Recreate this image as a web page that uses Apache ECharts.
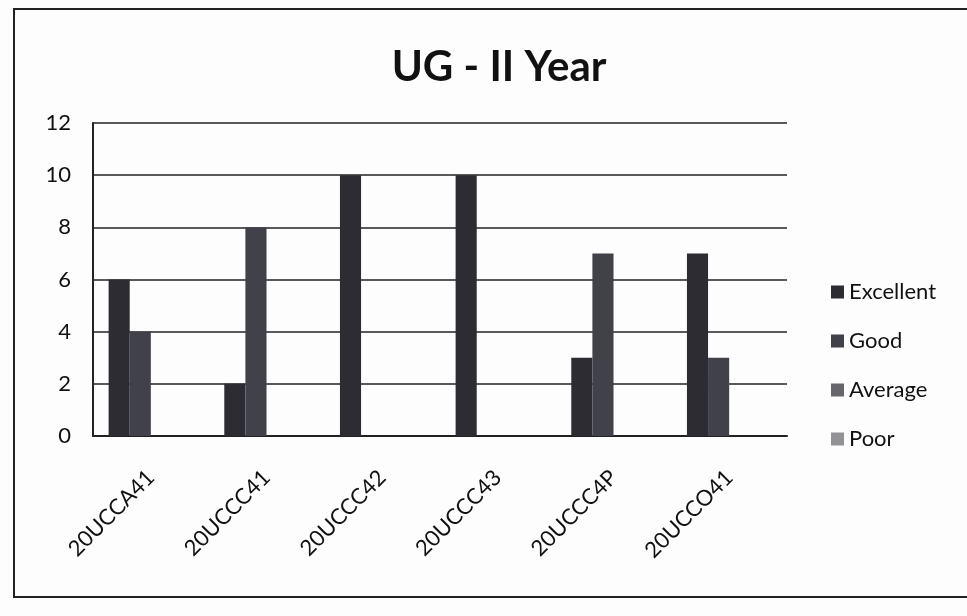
<!DOCTYPE html>
<html>
<head>
<meta charset="utf-8">
<script src="https://cdn.jsdelivr.net/npm/echarts@6/dist/echarts.min.js"></script>
<style>
html,body{margin:0;padding:0;background:#fdfdfd;}
#chart{width:967px;height:616px;}
</style>
</head>
<body>
<div id="chart"></div>
<script>
const categories = ['20UCCA41', '20UCCC41', '20UCCC42', '20UCCC43', '20UCCC4P', '20UCCO41'];
const excellent = [6, 2, 10, 10, 3, 7];
const good = [4, 8, 0, 0, 7, 3];
const average = [0, 0, 0, 0, 0, 0];
const poor = [0, 0, 0, 0, 0, 0];
const yTicks = [0, 2, 4, 6, 8, 10, 12];

const seriesNames = ['Excellent', 'Good', 'Average', 'Poor'];
const seriesData = [excellent, good, average, poor];
const colors = ['#2c2c32', '#414149', '#66666c', '#929296'];

const chart = echarts.init(document.getElementById('chart'));
const font = 'Lato, "Open Sans", sans-serif';

chart.setOption({
  backgroundColor: '#fdfdfd',
  animation: false,
  title: {
    text: 'UG - II Year',
    left: 494, top: 41, textAlign: 'center',
    textStyle: { fontFamily: font, fontWeight: 'bold', fontSize: 42, color: '#111' }
  },
  legend: {
    orient: 'vertical',
    left: 826, top: 276,
    itemWidth: 13, itemHeight: 13, itemGap: 27,
    icon: 'rect',
    textStyle: { fontFamily: font, fontSize: 22, color: '#111' },
    data: seriesNames
  },
  graphic: [{
    type: 'rect',
    shape: { x: 14, y: 9, width: 980, height: 588 },
    style: { fill: 'none', stroke: '#222', lineWidth: 2 },
    silent: true
  }],
  grid: { left: 93, right: 180, top: 123, bottom: 180 },
  xAxis: {
    type: 'category',
    data: categories,
    axisLine: { show: true, lineStyle: { color: '#222', width: 2 } },
    axisTick: { show: false },
    axisLabel: {
      rotate: 45, margin: 38, interval: 0,
      fontFamily: font, fontSize: 22, color: '#111'
    }
  },
  yAxis: {
    type: 'value',
    min: yTicks[0], max: yTicks[yTicks.length - 1], interval: 2,
    axisLine: { show: true, lineStyle: { color: '#222', width: 2 } },
    axisTick: { show: false },
    axisLabel: { fontFamily: font, fontSize: 22, color: '#111', margin: 22 },
    splitLine: { show: true, lineStyle: { color: '#222', width: 1.6 } }
  },
  series: seriesNames.map((name, i) => ({
    name: name,
    type: 'bar',
    data: seriesData[i],
    barGap: '0%',
    barCategoryGap: '27%',
    itemStyle: { color: colors[i] }
  }))
});
</script>
</body>
</html>
